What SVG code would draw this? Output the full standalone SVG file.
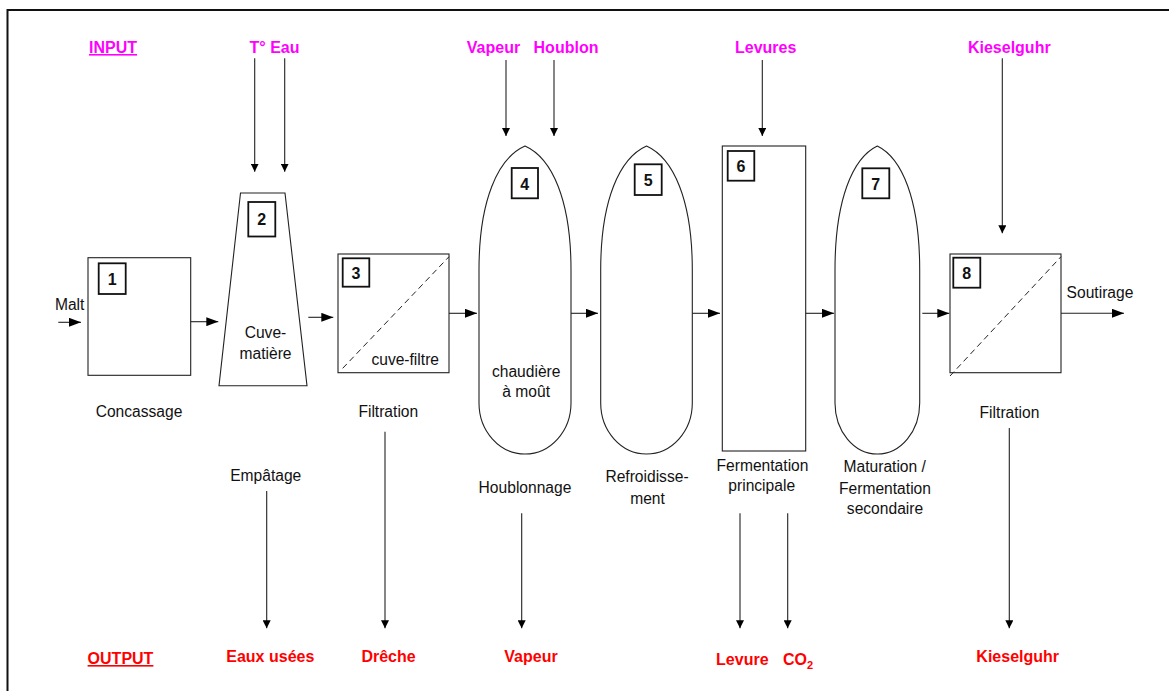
<svg xmlns="http://www.w3.org/2000/svg" width="1169" height="691" viewBox="0 0 1169 691">
<style>
text{font-family:"Liberation Sans",Arial,Helvetica,sans-serif}
.lbl{font-size:15.6px;fill:#111;text-anchor:middle}
.in{font-size:16px;font-weight:bold;fill:#FF00FF;text-anchor:middle}
.out{font-size:16px;font-weight:bold;fill:#FF0000;text-anchor:middle}
.num{font-size:16px;font-weight:bold;fill:#111;text-anchor:middle}
.shape{fill:#fff;stroke:#222;stroke-width:1.1}
.nbox{fill:#fff;stroke:#111;stroke-width:1.8}
.dash{stroke:#222;stroke-width:1;stroke-dasharray:6 4;fill:none}
.con{stroke:#222;stroke-width:1.1;fill:none}
</style>
<defs>
<marker id="ah" viewBox="0 0 12 9" refX="12" refY="4.5" markerWidth="12" markerHeight="9" markerUnits="userSpaceOnUse" orient="auto"><path d="M0,0 L12,4.5 L0,9 Z" fill="#000"/></marker>
<marker id="av" viewBox="0 0 8 8" refX="8" refY="4" markerWidth="8" markerHeight="8" markerUnits="userSpaceOnUse" orient="auto"><path d="M0,0 L8,4 L0,8 Z" fill="#000"/></marker>
</defs>
<rect x="0" y="0" width="1169" height="691" fill="#fff"/>
<path d="M7.5,700 L7.5,10 L1180,10" fill="none" stroke="#111" stroke-width="2"/>

<g id="inputs">
<text class="in" x="113" y="53" text-decoration="underline">INPUT</text>
<text class="in" x="274.5" y="53">T° Eau</text>
<text class="in" x="493.5" y="53">Vapeur</text>
<text class="in" x="566" y="53">Houblon</text>
<text class="in" x="765.7" y="53">Levures</text>
<text class="in" x="1009.3" y="53">Kieselguhr</text>
</g>

<g id="outputs">
<text class="out" x="120.5" y="664" text-decoration="underline">OUTPUT</text>
<text class="out" x="270.3" y="661.5">Eaux usées</text>
<text class="out" x="388.5" y="661.5">Drêche</text>
<text class="out" x="531" y="661.5">Vapeur</text>
<text class="out" x="742.3" y="664.5">Levure</text>
<text class="out" x="783" y="664.5" style="text-anchor:start">CO<tspan font-size="11" dy="4">2</tspan></text>
<text class="out" x="1017.7" y="661.5">Kieselguhr</text>
</g>

<g id="node-1">
<rect class="shape" x="88" y="257.7" width="102.7" height="117.6"/>
<rect class="nbox" x="98.7" y="263.3" width="27" height="30.7"/>
<text class="num" x="112.2" y="285">1</text>
<text class="lbl" x="139" y="417.3">Concassage</text>
</g>

<g id="node-2">
<polygon class="shape" points="240.5,193 285,193 307,385.7 219,385.7"/>
<rect class="nbox" x="248.3" y="202" width="27" height="34.5"/>
<text class="num" x="261.8" y="225">2</text>
<text class="lbl" x="265.5" y="338.3">Cuve-</text>
<text class="lbl" x="265.5" y="359.3">matière</text>
<text class="lbl" x="265.7" y="480.7">Empâtage</text>
</g>

<g id="node-3">
<rect class="shape" x="338" y="254" width="111" height="118.7"/>
<line class="dash" x1="342.7" y1="368.3" x2="449" y2="256.7"/>
<rect class="nbox" x="342.7" y="258.3" width="26.6" height="28.4"/>
<text class="num" x="356" y="278.5">3</text>
<text class="lbl" x="439" y="365" style="text-anchor:end">cuve-filtre</text>
<text class="lbl" x="388.3" y="416.7">Filtration</text>
</g>

<g id="node-4">
<path class="shape" d="M525,146 C498,158 479,200 479,270 L479,403 A46,51 0 0 0 571,403 L571,270 C571,200 552,158 525,146 Z"/>
<rect class="nbox" x="511.7" y="168" width="26.3" height="30.3"/>
<text class="num" x="524.8" y="189.5">4</text>
<text class="lbl" x="526.2" y="377.3">chaudière</text>
<text class="lbl" x="526.2" y="397.3">à moût</text>
<text class="lbl" x="525" y="493.3">Houblonnage</text>
</g>

<g id="node-5">
<path class="shape" d="M646.5,146 C619.6,158 600.7,200 600.7,270 L600.7,403 A45.8,51 0 0 0 692.3,403 L692.3,270 C692.3,200 673.4,158 646.5,146 Z"/>
<rect class="nbox" x="634.7" y="164.3" width="27" height="30.7"/>
<text class="num" x="648.2" y="186">5</text>
<text class="lbl" x="647" y="482.3">Refroidisse-</text>
<text class="lbl" x="647.5" y="504">ment</text>
</g>

<g id="node-6">
<rect class="shape" x="722.3" y="146" width="83.4" height="305"/>
<rect class="nbox" x="727.7" y="151" width="26.6" height="29.7"/>
<text class="num" x="741" y="171.5">6</text>
<text class="lbl" x="762.5" y="471">Fermentation</text>
<text class="lbl" x="761.7" y="490.5">principale</text>
</g>

<g id="node-7">
<path class="shape" d="M877.3,146 C852.5,158 835,200 835,270 L835,403 A42.3,51 0 0 0 919.7,403 L919.7,270 C919.7,200 902.1,158 877.3,146 Z"/>
<rect class="nbox" x="862.3" y="168.3" width="27" height="30"/>
<text class="num" x="875.8" y="189.5">7</text>
<text class="lbl" x="884.7" y="471.7">Maturation /</text>
<text class="lbl" x="885" y="494">Fermentation</text>
<text class="lbl" x="885" y="514">secondaire</text>
</g>

<g id="node-8">
<rect class="shape" x="950" y="254" width="111" height="118.7"/>
<line class="dash" x1="950" y1="376" x2="1061" y2="256.7"/>
<rect class="nbox" x="953.3" y="257.7" width="27" height="30"/>
<text class="num" x="966.8" y="279">8</text>
<text class="lbl" x="1009.5" y="417.7">Filtration</text>
<text class="lbl" x="1100" y="297.7">Soutirage</text>
<text class="lbl" x="69.7" y="310">Malt</text>
</g>

<g id="connectors">
<line class="con" x1="58.3" y1="322.3" x2="81" y2="322.3" marker-end="url(#ah)"/>
<line class="con" x1="190.7" y1="321.7" x2="218.3" y2="321.7" marker-end="url(#ah)"/>
<line class="con" x1="308.3" y1="317.3" x2="333.3" y2="317.3" marker-end="url(#ah)"/>
<line class="con" x1="449" y1="313.3" x2="477" y2="313.3" marker-end="url(#ah)"/>
<line class="con" x1="571" y1="313.3" x2="598" y2="313.3" marker-end="url(#ah)"/>
<line class="con" x1="692.3" y1="313.3" x2="720" y2="313.3" marker-end="url(#ah)"/>
<line class="con" x1="805.7" y1="313.3" x2="834" y2="313.3" marker-end="url(#ah)"/>
<line class="con" x1="922.3" y1="313.3" x2="949.3" y2="313.3" marker-end="url(#ah)"/>
<line class="con" x1="1061" y1="313.3" x2="1124" y2="313.3" marker-end="url(#ah)"/>
<line class="con" x1="254.7" y1="58.3" x2="254.7" y2="171.7" marker-end="url(#av)"/>
<line class="con" x1="284.7" y1="58.3" x2="284.7" y2="171.7" marker-end="url(#av)"/>
<line class="con" x1="506" y1="60" x2="506" y2="136" marker-end="url(#av)"/>
<line class="con" x1="554" y1="60" x2="554" y2="136" marker-end="url(#av)"/>
<line class="con" x1="762.3" y1="60" x2="762.3" y2="136" marker-end="url(#av)"/>
<line class="con" x1="1002.3" y1="58.3" x2="1002.3" y2="233.3" marker-end="url(#av)"/>
<line class="con" x1="266.7" y1="491" x2="266.7" y2="628.3" marker-end="url(#av)"/>
<line class="con" x1="385" y1="431.7" x2="385" y2="628.3" marker-end="url(#av)"/>
<line class="con" x1="521.7" y1="513.3" x2="521.7" y2="628.3" marker-end="url(#av)"/>
<line class="con" x1="740" y1="513.3" x2="740" y2="628.3" marker-end="url(#av)"/>
<line class="con" x1="787.7" y1="513.3" x2="787.7" y2="628.3" marker-end="url(#av)"/>
<line class="con" x1="1009.3" y1="428" x2="1009.3" y2="628.3" marker-end="url(#av)"/>
</g>
</svg>
